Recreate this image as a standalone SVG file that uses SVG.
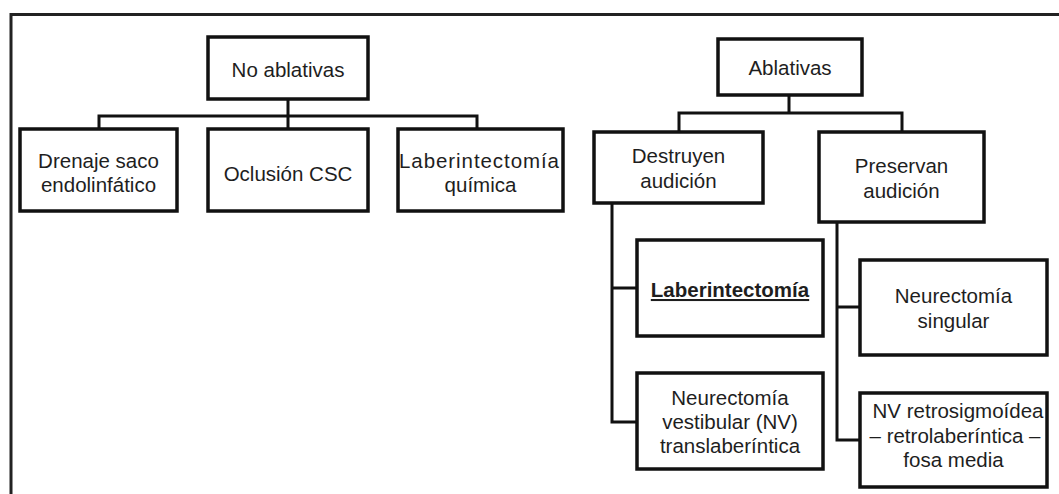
<svg xmlns="http://www.w3.org/2000/svg" width="1059" height="494" viewBox="0 0 1059 494">
<style>
.box{fill:#fff;stroke:#111;stroke-width:3.5}
.ln{fill:none;stroke:#111;stroke-width:3}
.frame{fill:none;stroke:#222;stroke-width:3}
text{font-family:"Liberation Sans",Arial,sans-serif;font-size:20.5px;fill:#1e1e1e;text-anchor:middle}
.b{font-weight:bold;text-decoration:underline}
</style>
<rect width="1059" height="494" fill="#fff"/>
<path class="frame" d="M11,494 V14.5 H1059"/>
<g id="connectors">
<path class="ln" d="M288,99 V116 M99,129 V116 H477 V129 M288,116 V129"/>
<path class="ln" d="M789,95 V113 M679,132 V113 H902 V132"/>
<path class="ln" d="M612,203 V422 H637 M612,288 H637"/>
<path class="ln" d="M837,222 V440 H860 M837,307 H860"/>
</g>
<g id="no-ablativas"><rect class="box" x="208" y="37" width="160" height="62"/><text x="288" y="77">No ablativas</text></g>
<g id="drenaje"><rect class="box" x="20" y="129" width="157" height="82"/><text x="98.5" y="168">Drenaje saco</text><text x="98.5" y="192">endolinfático</text></g>
<g id="oclusion"><rect class="box" x="208" y="129" width="160" height="82"/><text x="288" y="181">Oclusión CSC</text></g>
<g id="lab-quimica"><rect class="box" x="398" y="129" width="165" height="82"/><text x="479" y="168" textLength="160" lengthAdjust="spacing">Laberintectomía</text><text x="480.5" y="192">química</text></g>
<g id="ablativas"><rect class="box" x="718" y="39" width="144" height="56"/><text x="790" y="75">Ablativas</text></g>
<g id="destruyen"><rect class="box" x="594" y="132" width="169" height="71"/><text x="678.5" y="163">Destruyen</text><text x="678.5" y="188">audición</text></g>
<g id="preservan"><rect class="box" x="819" y="132" width="165" height="90"/><text x="901.5" y="173">Preservan</text><text x="901.5" y="198">audición</text></g>
<g id="laberintectomia"><rect class="box" x="637" y="240" width="186" height="96"/><text class="b" x="730" y="297">Laberintectomía</text></g>
<g id="nv-translab"><rect class="box" x="637" y="373" width="186" height="96"/><text x="730" y="405">Neurectomía</text><text x="730" y="429">vestibular (NV)</text><text x="730" y="453">translaberíntica</text></g>
<g id="neur-singular"><rect class="box" x="860" y="260" width="187" height="95"/><text x="953.5" y="303">Neurectomía</text><text x="953.5" y="328">singular</text></g>
<g id="nv-retro"><rect class="box" x="860" y="393" width="187" height="94"/><text x="958" y="418">NV retrosigmoídea</text><text x="955" y="443">– retrolaberíntica –</text><text x="953.5" y="467">fosa media</text></g>
</svg>
